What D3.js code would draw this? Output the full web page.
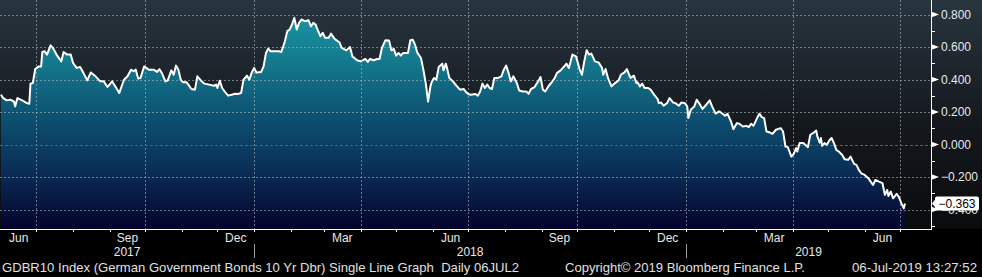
<!DOCTYPE html>
<html>
<head>
<meta charset="utf-8">
<script src="https://cdn.jsdelivr.net/npm/d3@7"></script>
<style>
    html, body { margin: 0; padding: 0; background: #000; }
    svg { display: block; }
    text { font-family: "Liberation Sans", Arial, sans-serif; }
</style>
</head>
<body>
<div id="chart"></div>
<script>
// GDBR10 daily close
const gdbr10 = [
    ["2017-06-01", 0.307], ["2017-06-03", 0.286], ["2017-06-06", 0.272], ["2017-06-09", 0.276],
    ["2017-06-12", 0.265], ["2017-06-13", 0.235], ["2017-06-15", 0.286], ["2017-06-19", 0.272],
    ["2017-06-23", 0.255], ["2017-06-25", 0.251], ["2017-06-26", 0.375], ["2017-06-28", 0.379],
    ["2017-06-30", 0.465], ["2017-07-03", 0.481], ["2017-07-05", 0.481], ["2017-07-06", 0.570],
    ["2017-07-08", 0.574], ["2017-07-10", 0.554], ["2017-07-13", 0.611], ["2017-07-15", 0.595],
    ["2017-07-18", 0.554], ["2017-07-22", 0.512], ["2017-07-24", 0.570], ["2017-07-27", 0.554],
    ["2017-07-30", 0.554], ["2017-08-01", 0.502], ["2017-08-04", 0.472], ["2017-08-07", 0.478],
    ["2017-08-09", 0.451], ["2017-08-13", 0.395], ["2017-08-16", 0.444], ["2017-08-20", 0.420],
    ["2017-08-24", 0.389], ["2017-08-27", 0.389], ["2017-08-30", 0.354], ["2017-09-03", 0.389],
    ["2017-09-06", 0.354], ["2017-09-09", 0.317], ["2017-09-13", 0.399], ["2017-09-16", 0.420],
    ["2017-09-19", 0.461], ["2017-09-21", 0.451], ["2017-09-23", 0.461], ["2017-09-25", 0.406],
    ["2017-09-27", 0.410], ["2017-09-30", 0.481], ["2017-10-04", 0.461], ["2017-10-08", 0.461],
    ["2017-10-11", 0.447], ["2017-10-13", 0.464], ["2017-10-15", 0.441], ["2017-10-18", 0.389],
    ["2017-10-20", 0.395], ["2017-10-23", 0.457], ["2017-10-25", 0.430], ["2017-10-27", 0.486],
    ["2017-10-29", 0.461], ["2017-10-31", 0.399], ["2017-11-02", 0.383], ["2017-11-05", 0.383],
    ["2017-11-09", 0.342], ["2017-11-12", 0.338], ["2017-11-14", 0.420], ["2017-11-17", 0.395],
    ["2017-11-20", 0.375], ["2017-11-24", 0.369], ["2017-11-28", 0.362], ["2017-11-30", 0.369],
    ["2017-12-01", 0.348], ["2017-12-03", 0.393], ["2017-12-05", 0.348], ["2017-12-07", 0.327],
    ["2017-12-10", 0.301], ["2017-12-13", 0.307], ["2017-12-16", 0.313], ["2017-12-18", 0.311],
    ["2017-12-21", 0.317], ["2017-12-23", 0.399], ["2017-12-26", 0.424], ["2017-12-28", 0.399],
    ["2017-12-30", 0.444], ["2018-01-01", 0.472], ["2018-01-03", 0.444], ["2018-01-07", 0.447],
    ["2018-01-09", 0.481], ["2018-01-11", 0.564], ["2018-01-13", 0.591], ["2018-01-15", 0.574],
    ["2018-01-19", 0.574], ["2018-01-22", 0.574], ["2018-01-24", 0.570], ["2018-01-27", 0.636],
    ["2018-01-29", 0.698], ["2018-01-31", 0.708], ["2018-02-02", 0.739], ["2018-02-04", 0.780],
    ["2018-02-06", 0.708], ["2018-02-08", 0.749], ["2018-02-10", 0.770], ["2018-02-13", 0.759],
    ["2018-02-16", 0.765], ["2018-02-18", 0.728], ["2018-02-20", 0.749], ["2018-02-22", 0.739],
    ["2018-02-23", 0.718], ["2018-02-26", 0.667], ["2018-02-28", 0.688], ["2018-03-02", 0.657],
    ["2018-03-05", 0.657], ["2018-03-07", 0.683], ["2018-03-10", 0.651], ["2018-03-14", 0.630],
    ["2018-03-16", 0.595], ["2018-03-20", 0.580], ["2018-03-23", 0.601], ["2018-03-25", 0.543],
    ["2018-03-29", 0.519], ["2018-04-01", 0.512], ["2018-04-05", 0.527], ["2018-04-07", 0.509],
    ["2018-04-09", 0.527], ["2018-04-12", 0.519], ["2018-04-15", 0.527], ["2018-04-17", 0.527],
    ["2018-04-19", 0.595], ["2018-04-22", 0.642], ["2018-04-25", 0.640], ["2018-04-27", 0.580],
    ["2018-04-29", 0.589], ["2018-05-01", 0.548], ["2018-05-03", 0.564], ["2018-05-05", 0.548],
    ["2018-05-07", 0.564], ["2018-05-11", 0.564], ["2018-05-13", 0.642], ["2018-05-15", 0.646],
    ["2018-05-17", 0.615], ["2018-05-19", 0.564], ["2018-05-22", 0.533], ["2018-05-24", 0.461],
    ["2018-05-26", 0.379], ["2018-05-28", 0.265], ["2018-05-30", 0.358], ["2018-05-31", 0.383],
    ["2018-06-02", 0.410], ["2018-06-04", 0.399], ["2018-06-06", 0.478], ["2018-06-09", 0.498],
    ["2018-06-10", 0.457], ["2018-06-12", 0.498], ["2018-06-13", 0.472], ["2018-06-15", 0.410],
    ["2018-06-18", 0.389], ["2018-06-21", 0.362], ["2018-06-24", 0.338], ["2018-06-27", 0.342],
    ["2018-06-29", 0.324], ["2018-07-01", 0.311], ["2018-07-03", 0.307], ["2018-07-07", 0.311],
    ["2018-07-09", 0.301], ["2018-07-11", 0.327], ["2018-07-13", 0.375], ["2018-07-15", 0.348],
    ["2018-07-17", 0.369], ["2018-07-19", 0.348], ["2018-07-21", 0.342], ["2018-07-23", 0.410],
    ["2018-07-26", 0.410], ["2018-07-29", 0.420], ["2018-07-31", 0.461], ["2018-08-02", 0.486],
    ["2018-08-04", 0.441], ["2018-08-06", 0.389], ["2018-08-08", 0.420], ["2018-08-11", 0.379],
    ["2018-08-13", 0.333], ["2018-08-16", 0.327], ["2018-08-19", 0.327], ["2018-08-21", 0.313],
    ["2018-08-23", 0.342], ["2018-08-26", 0.354], ["2018-08-29", 0.389], ["2018-08-31", 0.416],
    ["2018-09-02", 0.338], ["2018-09-04", 0.327], ["2018-09-07", 0.362], ["2018-09-09", 0.379],
    ["2018-09-12", 0.410], ["2018-09-14", 0.441], ["2018-09-17", 0.457], ["2018-09-20", 0.481],
    ["2018-09-22", 0.498], ["2018-09-24", 0.472], ["2018-09-27", 0.554], ["2018-09-30", 0.543],
    ["2018-10-03", 0.465], ["2018-10-05", 0.430], ["2018-10-07", 0.512], ["2018-10-09", 0.580],
    ["2018-10-11", 0.554], ["2018-10-13", 0.560], ["2018-10-16", 0.512], ["2018-10-19", 0.506],
    ["2018-10-22", 0.472], ["2018-10-23", 0.430], ["2018-10-25", 0.465], ["2018-10-27", 0.410],
    ["2018-10-30", 0.358], ["2018-11-02", 0.379], ["2018-11-05", 0.395], ["2018-11-07", 0.430],
    ["2018-11-10", 0.444], ["2018-11-12", 0.465], ["2018-11-15", 0.410], ["2018-11-18", 0.424],
    ["2018-11-20", 0.379], ["2018-11-21", 0.383], ["2018-11-23", 0.358], ["2018-11-25", 0.375],
    ["2018-11-27", 0.348], ["2018-11-30", 0.348], ["2018-12-02", 0.338], ["2018-12-05", 0.307],
    ["2018-12-08", 0.280], ["2018-12-09", 0.255], ["2018-12-11", 0.259], ["2018-12-13", 0.239],
    ["2018-12-16", 0.255], ["2018-12-18", 0.286], ["2018-12-21", 0.259], ["2018-12-23", 0.255],
    ["2018-12-26", 0.239], ["2018-12-28", 0.259], ["2018-12-31", 0.255], ["2019-01-02", 0.235],
    ["2019-01-03", 0.163], ["2019-01-05", 0.214], ["2019-01-08", 0.235], ["2019-01-10", 0.276],
    ["2019-01-12", 0.255], ["2019-01-15", 0.219], ["2019-01-18", 0.245], ["2019-01-21", 0.272],
    ["2019-01-23", 0.235], ["2019-01-26", 0.190], ["2019-01-29", 0.204], ["2019-01-31", 0.194],
    ["2019-02-03", 0.177], ["2019-02-05", 0.190], ["2019-02-08", 0.142], ["2019-02-10", 0.095],
    ["2019-02-13", 0.132], ["2019-02-15", 0.128], ["2019-02-18", 0.111], ["2019-02-21", 0.115],
    ["2019-02-23", 0.107], ["2019-02-25", 0.128], ["2019-02-27", 0.115], ["2019-03-02", 0.163],
    ["2019-03-04", 0.190], ["2019-03-06", 0.169], ["2019-03-08", 0.163], ["2019-03-10", 0.080],
    ["2019-03-13", 0.074], ["2019-03-15", 0.066], ["2019-03-18", 0.091], ["2019-03-22", 0.101],
    ["2019-03-24", 0.080], ["2019-03-26", -0.012], ["2019-03-28", -0.016], ["2019-03-31", -0.074],
    ["2019-04-02", -0.057], ["2019-04-04", -0.022], ["2019-04-05", -0.043], ["2019-04-07", 0.009],
    ["2019-04-10", 0.009], ["2019-04-11", 0.004], ["2019-04-14", -0.016], ["2019-04-16", 0.060],
    ["2019-04-19", 0.074], ["2019-04-21", 0.086], ["2019-04-22", 0.049], ["2019-04-24", 0.012],
    ["2019-04-25", 0.040], ["2019-04-26", -0.008], ["2019-04-28", 0.009], ["2019-04-30", -0.002],
    ["2019-05-02", 0.025], ["2019-05-04", 0.040], ["2019-05-06", 0.009], ["2019-05-08", -0.033],
    ["2019-05-10", -0.043], ["2019-05-13", -0.064], ["2019-05-15", -0.090], ["2019-05-18", -0.094],
    ["2019-05-20", -0.074], ["2019-05-23", -0.119], ["2019-05-25", -0.125], ["2019-05-27", -0.156],
    ["2019-05-29", -0.177], ["2019-06-01", -0.187], ["2019-06-04", -0.207], ["2019-06-06", -0.228],
    ["2019-06-08", -0.249], ["2019-06-10", -0.218], ["2019-06-13", -0.228], ["2019-06-16", -0.238],
    ["2019-06-18", -0.310], ["2019-06-20", -0.280], ["2019-06-21", -0.317], ["2019-06-23", -0.290],
    ["2019-06-25", -0.331], ["2019-06-28", -0.304], ["2019-06-30", -0.325], ["2019-07-02", -0.362],
    ["2019-07-04", -0.393], ["2019-07-05", -0.363]
];

const yTicks = [0.8, 0.6, 0.4, 0.2, 0.0, -0.2, -0.4];
const monthLabels = [
    ["2017-06-01", "Jun"], ["2017-09-01", "Sep"], ["2017-12-01", "Dec"],
    ["2018-03-01", "Mar"], ["2018-06-01", "Jun"], ["2018-09-01", "Sep"],
    ["2018-12-01", "Dec"], ["2019-03-01", "Mar"], ["2019-06-01", "Jun"]
];
const yearLabels = ["2017", "2018", "2019"];
const footerLeft = "GDBR10 Index (German Government Bonds 10 Yr Dbr) Single Line Graph  Daily 06JUL2";
const footerMid = "Copyright\u00A9 2019 Bloomberg Finance L.P.";
const footerRight = "06-Jul-2019 13:27:52";

const parseDate = d3.timeParse("%Y-%m-%d");
const data = gdbr10.map(d => ({ date: parseDate(d[0]), value: d[1] }));
const last = data[data.length - 1];

const svgWidth = 982;
const svgHeight = 277;
const plotW = 931;
const plotH = 229;

const svg = d3.select("#chart")
    .append("svg")
    .attr("width", svgWidth)
    .attr("height", svgHeight)
    .style("background", "#000");

const defs = svg.append("defs");

// panel background
const bg = defs.append("linearGradient")
    .attr("id", "bgGrad")
    .attr("x1", 0).attr("y1", 0).attr("x2", 0).attr("y2", 1);
bg.append("stop").attr("offset", "0%").attr("stop-color", "#28353f");
bg.append("stop").attr("offset", "55%").attr("stop-color", "#14181d");
bg.append("stop").attr("offset", "100%").attr("stop-color", "#0a0b0d");

// area fill
const fg = defs.append("linearGradient")
    .attr("id", "areaGrad")
    .attr("gradientUnits", "userSpaceOnUse")
    .attr("x1", 0).attr("y1", 0).attr("x2", 0).attr("y2", plotH);
fg.append("stop").attr("offset", "0%").attr("stop-color", "#1c9aa8");
fg.append("stop").attr("offset", "25%").attr("stop-color", "#157c8f");
fg.append("stop").attr("offset", "50%").attr("stop-color", "#0d5272");
fg.append("stop").attr("offset", "75%").attr("stop-color", "#0a2d56");
fg.append("stop").attr("offset", "100%").attr("stop-color", "#04032c");

defs.append("clipPath").attr("id", "plotClip")
    .append("rect").attr("width", plotW).attr("height", plotH);

svg.append("rect")
    .attr("width", svgWidth)
    .attr("height", plotH)
    .attr("fill", "url(#bgGrad)");

// Scales
const x = d3.scaleTime()
    .domain([new Date(2017, 4, 31, 6), new Date(2019, 6, 27)])
    .range([0, plotW]);
const y = d3.scaleLinear().domain([-0.52, 0.89]).range([plotH, 0]);

const plot = svg.append("g").attr("clip-path", "url(#plotClip)");

// Area + line
plot.append("path")
    .datum(data)
    .attr("fill", "url(#areaGrad)")
    .attr("d", d3.area().x(d => x(d.date)).y0(plotH).y1(d => y(d.value)));

// Grid
const quarterTicks = d3.timeMonth.every(3).range(x.domain()[0], x.domain()[1]).filter(d => x(d) > 5);
plot.append("g")
    .selectAll("line")
    .data(quarterTicks)
    .join("line")
    .attr("x1", d => Math.round(x(d)) + 0.5)
    .attr("x2", d => Math.round(x(d)) + 0.5)
    .attr("y1", 0)
    .attr("y2", plotH)
    .attr("stroke", "#aeb6bd")
    .attr("stroke-opacity", 0.6)
    .attr("stroke-dasharray", "2,2");

plot.append("g")
    .selectAll("line")
    .data(yTicks.filter(d => d !== 0))
    .join("line")
    .attr("x1", 0)
    .attr("x2", plotW)
    .attr("y1", d => Math.round(y(d)) + 0.5)
    .attr("y2", d => Math.round(y(d)) + 0.5)
    .attr("stroke", "#aeb6bd")
    .attr("stroke-opacity", 0.6)
    .attr("stroke-dasharray", "2,2");

plot.append("line")
    .attr("x1", 0)
    .attr("x2", plotW)
    .attr("y1", Math.round(y(0)) + 0.5)
    .attr("y2", Math.round(y(0)) + 0.5)
    .attr("stroke", "#ff1a1a")
    .attr("stroke-dasharray", "3,2");

plot.append("path")
    .datum(data)
    .attr("fill", "none")
    .attr("stroke", "#ffffff")
    .attr("stroke-width", 2)
    .attr("stroke-linejoin", "round")
    .attr("d", d3.line().x(d => x(d.date)).y(d => y(d.value)));

// Right axis
svg.append("line")
    .attr("x1", plotW + 0.5).attr("x2", plotW + 0.5)
    .attr("y1", 0).attr("y2", plotH)
    .attr("stroke", "#fff");

const minorTicks = d3.range(-5, 9).map(d => d / 10).filter(d => !yTicks.some(t => Math.abs(t - d) < 1e-6));
svg.append("g")
    .selectAll("line")
    .data(minorTicks)
    .join("line")
    .attr("x1", plotW).attr("x2", plotW + 4)
    .attr("y1", d => Math.round(y(d)) + 0.5)
    .attr("y2", d => Math.round(y(d)) + 0.5)
    .attr("stroke", "#fff");

const yAxis = svg.append("g");
yAxis.selectAll("path")
    .data(yTicks)
    .join("path")
    .attr("d", d => `M${plotW},${y(d) - 3}L${plotW + 8},${y(d)}L${plotW},${y(d) + 3}Z`)
    .attr("fill", "#fff");
yAxis.selectAll("text")
    .data(yTicks)
    .join("text")
    .attr("x", plotW + 10)
    .attr("y", d => y(d) + 4)
    .attr("font-size", "12px")
    .attr("fill", "#e8e8e8")
    .text(d => d3.format(".3f")(d));

// Last value tag
const ly = y(last.value);
svg.append("path")
    .attr("d", `M${plotW + 1},${ly}L${plotW + 5},${ly - 5}L${plotW + 5},${ly + 5}Z`)
    .attr("fill", "#fff");
svg.append("rect")
    .attr("x", plotW + 4)
    .attr("y", ly - 7)
    .attr("width", 44)
    .attr("height", 14)
    .attr("rx", 2)
    .attr("fill", "#fff");
svg.append("text")
    .attr("x", plotW + 26)
    .attr("y", ly + 4)
    .attr("text-anchor", "middle")
    .attr("font-size", "12px")
    .attr("fill", "#000")
    .text(d3.format(".3f")(last.value));

// Bottom axis
svg.append("line")
    .attr("x1", 0).attr("x2", plotW + 1)
    .attr("y1", plotH + 0.5).attr("y2", plotH + 0.5)
    .attr("stroke", "#fff");

const monthTicks = d3.timeMonth.range(x.domain()[0], x.domain()[1]).filter(d => x(d) > 5);
svg.append("g")
    .selectAll("line")
    .data(monthTicks)
    .join("line")
    .attr("x1", d => Math.round(x(d)) + 0.5)
    .attr("x2", d => Math.round(x(d)) + 0.5)
    .attr("y1", plotH)
    .attr("y2", plotH + 3)
    .attr("stroke", "#fff");

svg.append("g")
    .selectAll("text")
    .data(monthLabels)
    .join("text")
    .attr("x", d => {
        const start = parseDate(d[0]);
        return (x(start) + x(d3.timeMonth.offset(start, 1))) / 2;
    })
    .attr("y", 242)
    .attr("text-anchor", "middle")
    .attr("font-size", "12px")
    .attr("fill", "#e8e8e8")
    .text(d => d[1]);

const yearStarts = yearLabels.map(d => new Date(+d, 0, 1)).filter(d => x(d) > 5);
svg.append("g")
    .selectAll("line")
    .data(yearStarts)
    .join("line")
    .attr("x1", d => Math.round(x(d)) + 0.5)
    .attr("x2", d => Math.round(x(d)) + 0.5)
    .attr("y1", 244)
    .attr("y2", 258)
    .attr("stroke", "#9a9a9a");

svg.append("g")
    .selectAll("text")
    .data(yearLabels)
    .join("text")
    .attr("x", d => {
        const a = Math.max(x(new Date(+d, 0, 1)), 0);
        const b = Math.min(x(new Date(+d + 1, 0, 1)), plotW);
        return (a + b) / 2;
    })
    .attr("y", 256)
    .attr("text-anchor", "middle")
    .attr("font-size", "12px")
    .attr("fill", "#e8e8e8")
    .text(d => d);

// Footer
const footer = svg.append("g").attr("font-size", "13px").attr("fill", "#e0e0e0");
footer.append("text").attr("x", 2).attr("y", 272)
    .attr("textLength", 517).attr("lengthAdjust", "spacingAndGlyphs")
    .attr("xml:space", "preserve")
    .text(footerLeft);
footer.append("text").attr("x", 565).attr("y", 272)
    .attr("textLength", 240).attr("lengthAdjust", "spacingAndGlyphs")
    .text(footerMid);
footer.append("text").attr("x", 852).attr("y", 272)
    .attr("textLength", 125).attr("lengthAdjust", "spacingAndGlyphs")
    .text(footerRight);
</script>
</body>
</html>
